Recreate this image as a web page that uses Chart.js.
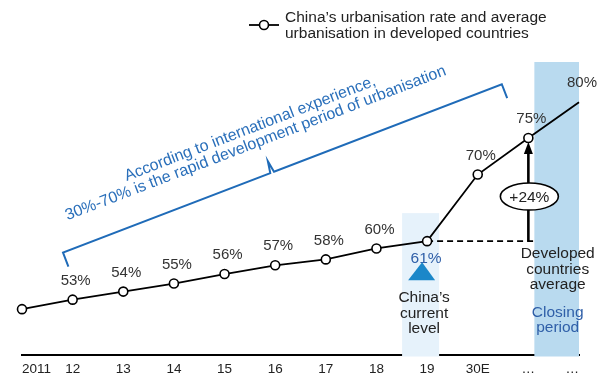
<!DOCTYPE html>
<html>
<head>
<meta charset="utf-8">
<script src="https://cdn.jsdelivr.net/npm/chart.js@4/dist/chart.umd.min.js"></script>
<style>
  html, body { margin: 0; padding: 0; background: #fff; }
  #c { display: block; }
</style>
</head>
<body>
<canvas id="c" width="602" height="375"></canvas>
<script>
// ---- data ----
const categories = ['2011', '12', '13', '14', '15', '16', '17', '18', '19', '30E', '\u2026', '\u2026'];
const urbanisation = [51.3, 52.6, 53.7, 54.8, 56.1, 57.3, 58.1, 59.6, 60.6, 69.7, 74.7, 79.6];
const pointLabels = ['', '53%', '54%', '55%', '56%', '57%', '58%', '60%', '', '70%', '75%', '80%'];
const currentIndex = 8;      // 2019
const currentLabel = '61%';
const developedIndex = 10;   // developed countries average
const gapLabel = '+24%';
const legendLines = ['China\u2019s urbanisation rate and average', 'urbanisation in developed countries'];
const bracketLines = ['According to international experience,', '30%-70% is the rapid development period of urbanisation'];
const currentText = ['China\u2019s', 'current', 'level'];
const developedText = ['Developed', 'countries', 'average'];
const closingText = ['Closing', 'period'];

const FONT = '"Liberation Sans", Arial, sans-serif';
const BLUE_TEXT = '#2f5fa8';
const BRACKET_BLUE = '#1f6bb8';

const annotations = {
  id: 'annotations',
  beforeDatasetsDraw(chart) {
    const ctx = chart.ctx;
    const x = chart.scales.x, y = chart.scales.y;
    const area = chart.chartArea;
    const xc = x.getPixelForValue(currentIndex);
    const yc = y.getPixelForValue(urbanisation[currentIndex]);
    const xd = x.getPixelForValue(developedIndex);
    const yd = y.getPixelForValue(urbanisation[developedIndex]);
    const xl = x.getPixelForValue(categories.length - 1);
    ctx.save();
    // current-level band
    ctx.fillStyle = '#e6f2fb';
    ctx.fillRect(xc - 25, yc - 28, 37, area.bottom + 2 - (yc - 28));
    // closing period band
    ctx.fillStyle = '#b9daef';
    ctx.fillRect(xd + 6, area.top + 52, xl - xd - 6, area.bottom + 2 - (area.top + 52));
    // dashed reference line
    ctx.strokeStyle = '#000';
    ctx.lineWidth = 1.8;
    ctx.setLineDash([6, 4]);
    ctx.beginPath();
    ctx.moveTo(xc, yc);
    ctx.lineTo(xd + 8, yc);
    ctx.stroke();
    ctx.setLineDash([]);
    // arrow
    ctx.lineWidth = 2.6;
    ctx.beginPath();
    ctx.moveTo(xd, yc);
    ctx.lineTo(xd, yd + 14);
    ctx.stroke();
    ctx.fillStyle = '#000';
    ctx.beginPath();
    ctx.moveTo(xd, yd + 4);
    ctx.lineTo(xd - 4.5, yd + 16);
    ctx.lineTo(xd + 4.5, yd + 16);
    ctx.closePath();
    ctx.fill();
    // ellipse with gap label
    const ey = (yc + yd) / 2 + 7;
    ctx.beginPath();
    ctx.ellipse(xd + 1, ey, 29, 13.5, 0, 0, Math.PI * 2);
    ctx.fillStyle = '#fff';
    ctx.fill();
    ctx.lineWidth = 1.6;
    ctx.strokeStyle = '#000';
    ctx.stroke();
    ctx.fillStyle = '#222';
    ctx.font = '15.5px ' + FONT;
    ctx.textAlign = 'center';
    ctx.textBaseline = 'middle';
    ctx.fillText(gapLabel, xd + 1, ey + 1);
    ctx.restore();
  },
  afterDatasetsDraw(chart) {
    const ctx = chart.ctx;
    const x = chart.scales.x, y = chart.scales.y;
    const meta = chart.getDatasetMeta(0);
    ctx.save();
    ctx.textAlign = 'center';
    ctx.textBaseline = 'middle';
    ctx.font = '15px ' + FONT;
    // point labels
    ctx.fillStyle = '#333';
    meta.data.forEach((pt, i) => {
      if (pointLabels[i]) ctx.fillText(pointLabels[i], pt.x + 3, pt.y - 19);
    });
    ctx.font = '15.5px ' + FONT;
    // current level marker
    const xc = x.getPixelForValue(currentIndex);
    const yc = y.getPixelForValue(urbanisation[currentIndex]);
    ctx.fillStyle = BLUE_TEXT;
    ctx.fillText(currentLabel, xc - 1, yc + 18);
    ctx.fillStyle = '#1b87c9';
    ctx.beginPath();
    ctx.moveTo(xc - 5, yc + 21);
    ctx.lineTo(xc - 19, yc + 39);
    ctx.lineTo(xc + 8, yc + 39);
    ctx.closePath();
    ctx.fill();
    ctx.fillStyle = '#222';
    currentText.forEach((t, i) => ctx.fillText(t, xc - 3, yc + 57 + i * 15.5));
    // developed countries text
    const xd = x.getPixelForValue(developedIndex);
    const xl = x.getPixelForValue(categories.length - 1);
    const xm = (xd + xl) / 2 + 4;
    developedText.forEach((t, i) => ctx.fillText(t, xm, yc + 13 + i * 15.5));
    ctx.fillStyle = BLUE_TEXT;
    closingText.forEach((t, i) => ctx.fillText(t, xm, yc + 72 + i * 15));

    // bracket
    const x0 = x.getPixelForValue(0), x1 = x.getPixelForValue(1);
    const step = x1 - x0;
    const bx = x0 + step * 0.81;              // left corner
    const by = y.getPixelForValue(urbanisation[1]) - 47;
    const ang = -21 * Math.PI / 180;
    const len = 470;
    const ux = Math.cos(ang), uy = Math.sin(ang);
    const nx = -uy, ny = ux;                  // normal (down-right)
    const hook = 15, notch = 12;
    const mid = 224;
    const P = (s, t) => [bx + ux * s + nx * t, by + uy * s + ny * t];
    ctx.strokeStyle = BRACKET_BLUE;
    ctx.lineWidth = 2;
    ctx.lineJoin = 'miter';
    ctx.beginPath();
    let p = P(0, hook); ctx.moveTo(p[0], p[1]);
    p = P(0, 0); ctx.lineTo(p[0], p[1]);
    p = P(mid - 2, 0); ctx.lineTo(p[0], p[1]);
    p = P(mid, -notch); ctx.lineTo(p[0], p[1]);
    p = P(mid + 2, 0); ctx.lineTo(p[0], p[1]);
    p = P(len, 0); ctx.lineTo(p[0], p[1]);
    p = P(len, hook); ctx.lineTo(p[0], p[1]);
    ctx.stroke();
    // bracket text
    const c = P(219, -33);
    ctx.translate(c[0], c[1]);
    ctx.rotate(ang);
    ctx.fillStyle = '#2a6fba';
    ctx.font = '16px ' + FONT;
    ctx.fillText(bracketLines[0], 0, -15.5);
    ctx.fillText(bracketLines[1], 0, 0);
    ctx.restore();

    // legend
    ctx.save();
    ctx.strokeStyle = '#000';
    ctx.lineWidth = 1.8;
    ctx.beginPath();
    ctx.moveTo(249, 25);
    ctx.lineTo(279, 25);
    ctx.stroke();
    ctx.beginPath();
    ctx.arc(264, 25, 4.5, 0, Math.PI * 2);
    ctx.fillStyle = '#fff';
    ctx.fill();
    ctx.lineWidth = 1.6;
    ctx.stroke();
    ctx.fillStyle = '#222';
    ctx.font = '15.5px ' + FONT;
    ctx.textAlign = 'left';
    ctx.textBaseline = 'middle';
    ctx.fillText(legendLines[0], 285, 18);
    ctx.fillText(legendLines[1], 285, 34);
    ctx.restore();
  }
};

new Chart(document.getElementById('c'), {
  type: 'line',
  data: {
    labels: categories,
    datasets: [{
      label: legendLines.join(' '),
      data: urbanisation,
      borderColor: '#000',
      borderWidth: 1.8,
      tension: 0,
      pointRadius: urbanisation.map((v, i) => i === urbanisation.length - 1 ? 0 : 4.5),
      pointBackgroundColor: '#fff',
      pointBorderColor: '#000',
      pointBorderWidth: 1.6
    }]
  },
  options: {
    responsive: false,
    animation: false,
    devicePixelRatio: 1,
    layout: { padding: { top: 10, left: 22, right: 23, bottom: -9 } },
    plugins: { legend: { display: false }, tooltip: { enabled: false } },
    scales: {
      x: {
        offset: false,
        grid: { display: false, drawTicks: false },
        border: { display: true, color: '#000', width: 2 },
        ticks: { color: '#222', font: { size: 13.5, family: FONT, lineHeight: 1 }, padding: 8, align: 'inner', maxRotation: 0, autoSkip: false }
      },
      y: { display: false, min: 45.1, max: 92.2 }
    }
  },
  plugins: [annotations]
});
</script>
</body>
</html>
